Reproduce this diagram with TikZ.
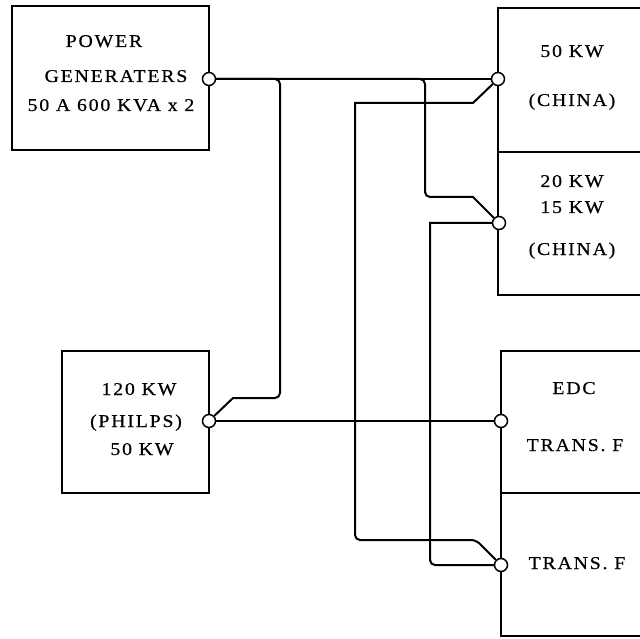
\documentclass[tikz,border=0pt]{standalone}
\usepackage{fontspec}
\newfontfamily\twfont[FakeStretch=1.1,LetterSpace=10,FakeBold=0.6]{Liberation Serif}
\begin{document}
\begin{tikzpicture}[x=1pt,y=-1pt, line width=2pt,
  box/.style={draw, rectangle, inner sep=0pt, line width=2pt},
  port/.style={circle, draw, fill=white, minimum size=13pt, inner sep=0pt, line width=1.5pt},
  lbl/.style={font=\twfont\fontsize{18}{20}\selectfont, inner sep=0pt, anchor=base},
  wire/.style={line width=2pt}]
\useasboundingbox (0,0) rectangle (640,639);
\fill[white] (0,0) rectangle (640,639);
\clip (0,0) rectangle (640,639);
% boxes
\node[box, minimum width=197pt, minimum height=144pt] (pg) at (110.5,78) {};
\node[box, minimum width=147pt, minimum height=142pt] (ph) at (135.5,422) {};
\node[box, minimum width=162pt, minimum height=144pt] (ch1) at (579,80) {};
\node[box, minimum width=162pt, minimum height=143pt] (ch2) at (579,223.5) {};
\node[box, minimum width=159pt, minimum height=142pt] (edc) at (580.5,422) {};
\node[box, minimum width=159pt, minimum height=143pt] (tf) at (580.5,564.5) {};
% ports
\node[port] (pgp) at (209,79) {};
\node[port] (php) at (209,421) {};
\node[port] (c1p) at (498,79) {};
\node[port] (c2p) at (499,223) {};
\node[port] (edcp) at (501,421) {};
\node[port] (tfp) at (501,565) {};
% connectors
\draw[wire] (pgp) -- (c1p);
\draw[wire] (pgp) [rounded corners=5pt] -| (280,398) [sharp corners] -- (233,398) -- (php);
\draw[wire] (pgp) [rounded corners=5pt] -| (425,197) [sharp corners] -- (473,197) -- (c2p);
\draw[wire] (c1p) -- (473,103) -- (355,103) [rounded corners=5pt] -- (355,540) -- (476,540) [sharp corners] -- (tfp);
\draw[wire] (c2p) -- (430,223) [rounded corners=5pt] -- (430,565) -- (tfp);
\draw[wire] (php) -- (edcp);
% labels
\node[lbl] (t1) at (104,47) {POWER};
\node[lbl] (t2) at (116,82) {GENERATERS};
\node[lbl] (t3) at (111,111) {50 A 600 KVA x 2};
\node[lbl] (t4) at (572,57) {50 KW};
\node[lbl] (t5) at (572,106) {(CHINA)};
\node[lbl] (t6) at (572,187) {20 KW};
\node[lbl] (t7) at (572,213) {15 KW};
\node[lbl] (t8) at (572,255) {(CHINA)};
\node[lbl] (t9) at (139,395) {120 KW};
\node[lbl] (t10) at (136,427) {(PHILPS)};
\node[lbl] (t11) at (142,455) {50 KW};
\node[lbl] (t12) at (574,394) {EDC};
\node[lbl] (t13) at (575,451) {TRANS. F};
\node[lbl] (t14) at (577,569) {TRANS. F};
\end{tikzpicture}
\end{document}
